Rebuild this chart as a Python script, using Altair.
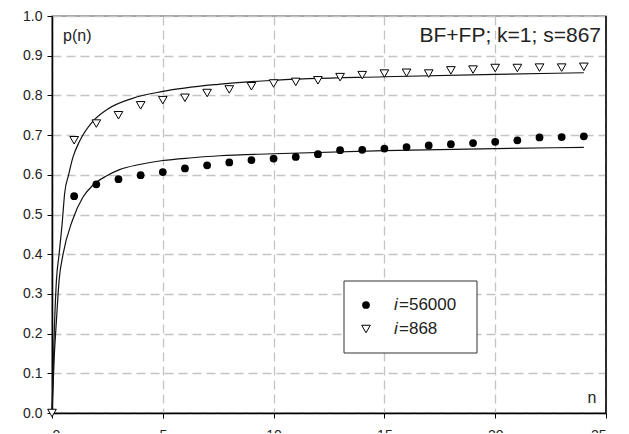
import altair as alt
import pandas as pd

# measured points
n_tri = list(range(0, 25))
p_868 = [0.0, 0.687, 0.729, 0.750, 0.775, 0.788, 0.794, 0.806, 0.815, 0.823, 0.830, 0.834,
         0.838, 0.846, 0.851, 0.855, 0.857, 0.855, 0.863, 0.865, 0.869, 0.869, 0.870, 0.870, 0.872]
n_circ = list(range(1, 25))
p_56000 = [0.546, 0.576, 0.589, 0.599, 0.607, 0.616, 0.624, 0.631, 0.637, 0.641, 0.645, 0.652,
           0.662, 0.663, 0.666, 0.670, 0.674, 0.677, 0.680, 0.683, 0.687, 0.694, 0.695, 0.697]

# fitted curves
fit_hi_n = [0, 0.1, 0.2, 0.32, 0.47, 0.57, 0.75, 0.95, 1.25, 1.85, 2.5, 3.6, 5, 7.5, 10, 15, 20, 24]
fit_hi = [0, 0.20, 0.334, 0.40, 0.485, 0.553, 0.60, 0.645, 0.685, 0.735, 0.765, 0.792, 0.810, 0.828,
          0.838, 0.847, 0.853, 0.857]
fit_lo_n = [0, 0.1, 0.2, 0.32, 0.5, 0.92, 1.4, 1.85, 2.45, 3.05, 3.95, 5, 6.35, 7.55, 10, 15, 20, 24]
fit_lo = [0, 0.14, 0.233, 0.334, 0.40, 0.485, 0.544, 0.574, 0.597, 0.613, 0.626, 0.636, 0.643,
          0.648, 0.653, 0.661, 0.666, 0.669]

x_ticks = [0, 5, 10, 15, 20, 25]
y_ticks = [0.0, 0.1, 0.2, 0.3, 0.4, 0.5, 0.6, 0.7, 0.8, 0.9, 1.0]

df_tri = pd.DataFrame({"n": n_tri, "p": p_868})
df_circ = pd.DataFrame({"n": n_circ, "p": p_56000})
df_hi = pd.DataFrame({"n": fit_hi_n, "p": fit_hi})
df_lo = pd.DataFrame({"n": fit_lo_n, "p": fit_lo})
one = pd.DataFrame({"a": [0]})

FONT = "Liberation Sans"

xs = alt.Scale(domain=[0, 25], nice=False, zero=False)
ys = alt.Scale(domain=[0, 1], nice=False)

xax = alt.Axis(values=x_ticks, title=None, grid=True, gridDash=[9, 5], gridColor="#c4c4c4",
               gridWidth=1.3, domainColor="black", domainWidth=1.5, tickColor="black",
               tickSize=5, labelFontSize=14, labelFont=FONT, labelColor="#222", labelPadding=10,
               labelOverlap=False)
yax = alt.Axis(values=y_ticks, format=".1f", title=None, grid=True, gridDash=[9, 5],
               gridColor="#c4c4c4", gridWidth=1.3, domainColor="black", domainWidth=1.5,
               tickColor="black", tickSize=5, labelFontSize=14, labelFont=FONT,
               labelColor="#222", labelPadding=5, labelOverlap=False)


def X():
    return alt.X("n:Q", scale=xs, axis=xax)


def Y():
    return alt.Y("p:Q", scale=ys, axis=yax)


line_hi = alt.Chart(df_hi).mark_line(color="#111", strokeWidth=1.2, interpolate="monotone").encode(
    x=X(), y=Y())
line_lo = alt.Chart(df_lo).mark_line(color="#111", strokeWidth=1.2, interpolate="monotone").encode(
    x=X(), y=Y())
circ = alt.Chart(df_circ).mark_point(shape="circle", filled=True, color="black", size=60,
                                     opacity=1).encode(x=X(), y=Y())
tri = alt.Chart(df_tri).mark_point(shape="triangle-down", fill="white", stroke="black", size=75,
                                   strokeWidth=1, opacity=1, filled=False).encode(x=X(), y=Y())
right_border = alt.Chart(one).mark_rule(color="black", strokeWidth=1.5).encode(
    x=alt.value(554), y=alt.value(0), y2=alt.value(397))

pn = alt.Chart(one).mark_text(text="p(n)", align="left", baseline="alphabetic", fontSize=16,
                              font=FONT, color="#222").encode(x=alt.value(11), y=alt.value(25))
title = alt.Chart(one).mark_text(text="BF+FP; k=1; s=867", align="right", baseline="alphabetic",
                                 fontSize=21, font=FONT, color="#222").encode(
    x=alt.value(549), y=alt.value(26))
nlab = alt.Chart(one).mark_text(text="n", align="center", baseline="alphabetic", fontSize=16,
                                font=FONT, color="#222").encode(x=alt.value(540), y=alt.value(387))

legend_box = alt.Chart(one).mark_rect(fill="white", stroke="#333", strokeWidth=1).encode(
    x=alt.value(292), x2=alt.value(425), y=alt.value(265), y2=alt.value(337))
leg_c = alt.Chart(one).mark_point(shape="circle", filled=True, color="black", size=60,
                                  opacity=1).encode(x=alt.value(314), y=alt.value(289))
leg_t = alt.Chart(one).mark_point(shape="triangle-down", fill="white", stroke="black", size=75,
                                  strokeWidth=1, opacity=1, filled=False).encode(
    x=alt.value(314), y=alt.value(313))
leg_i1 = alt.Chart(one).mark_text(text="i", align="left", baseline="alphabetic", fontSize=17,
                                  fontStyle="italic", font=FONT, color="#222").encode(
    x=alt.value(342), y=alt.value(294))
leg_v1 = alt.Chart(one).mark_text(text="=56000", align="left", baseline="alphabetic", fontSize=17,
                                  font=FONT, color="#222").encode(x=alt.value(347), y=alt.value(294))
leg_i2 = alt.Chart(one).mark_text(text="i", align="left", baseline="alphabetic", fontSize=17,
                                  fontStyle="italic", font=FONT, color="#222").encode(
    x=alt.value(342), y=alt.value(318))
leg_v2 = alt.Chart(one).mark_text(text="=868", align="left", baseline="alphabetic", fontSize=17,
                                  font=FONT, color="#222").encode(x=alt.value(347), y=alt.value(318))

chart = alt.layer(
    line_hi, line_lo, circ, tri, right_border, pn, title, nlab,
    legend_box, leg_c, leg_t, leg_i1, leg_v1, leg_i2, leg_v2
).properties(
    width=554, height=397,
    autosize=alt.AutoSizeParams(type="none"),
    padding={"left": 44, "top": 8, "right": 12, "bottom": 20},
).configure_view(stroke="#888", strokeWidth=1.5)

chart.save("out.html", embed_options={"renderer": "svg", "actions": False})
